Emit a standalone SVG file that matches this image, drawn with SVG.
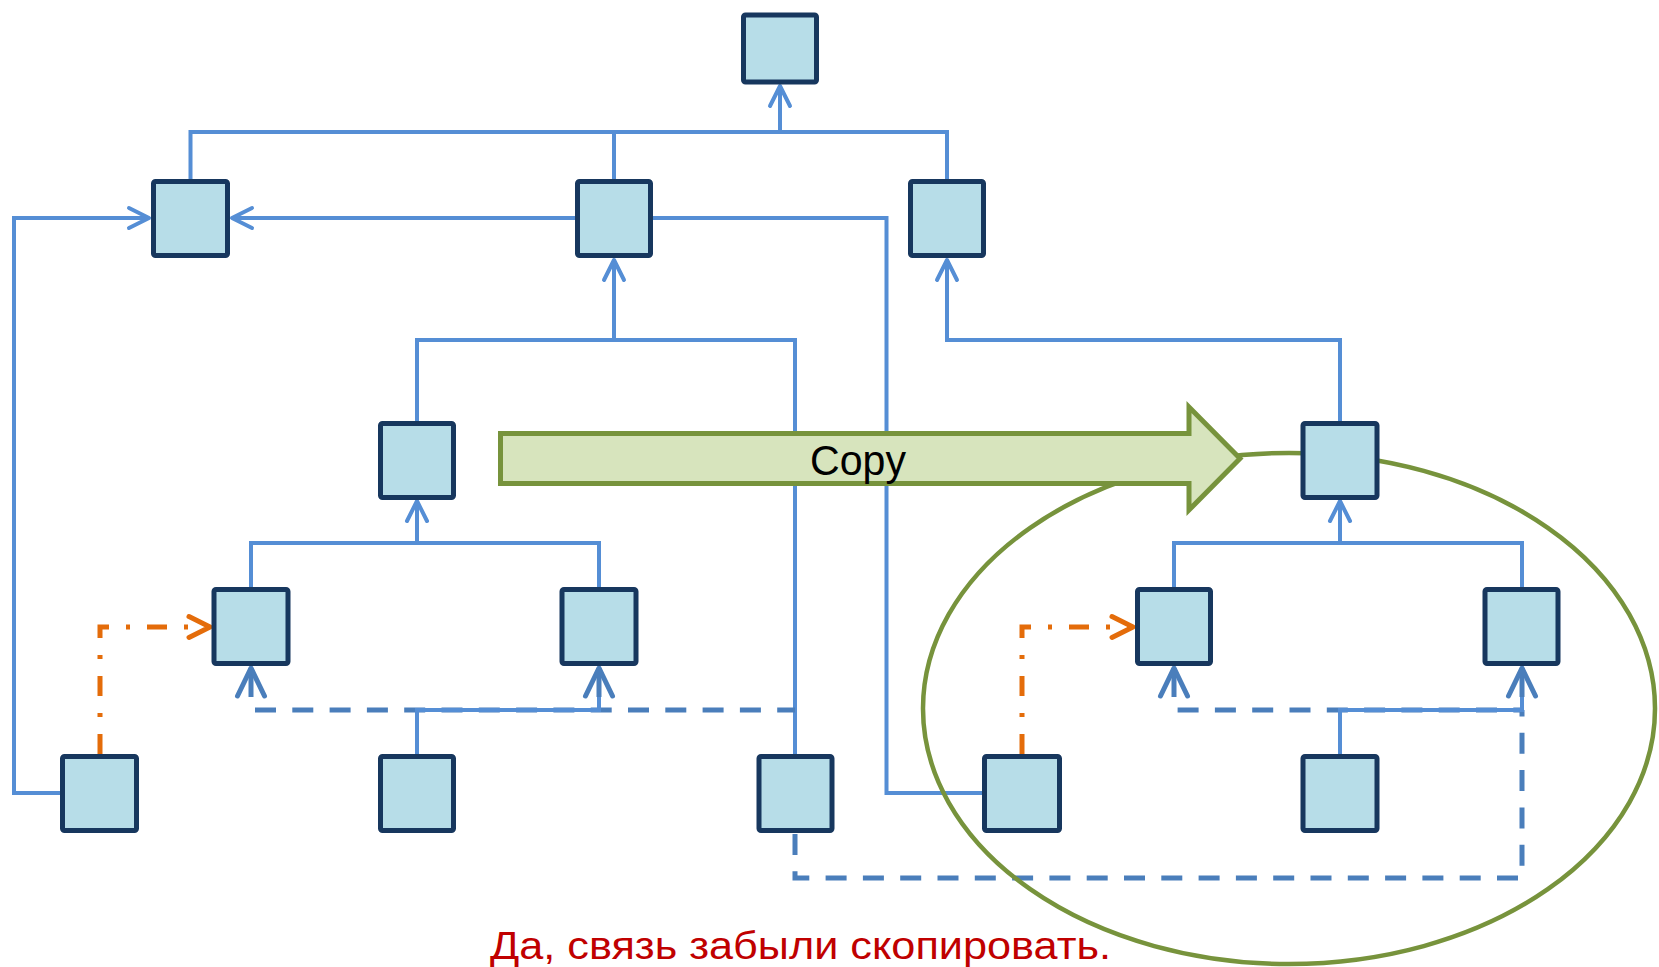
<svg xmlns="http://www.w3.org/2000/svg" width="1659" height="967" viewBox="0 0 1659 967">
<style>
.n{fill:#B7DDE8;stroke:#17375E;stroke-width:5;stroke-linejoin:round}
.c{fill:none;stroke:#558ED5;stroke-width:4}
.d{fill:none;stroke:#4A7EBB;stroke-width:5;stroke-dasharray:21 16.3}
.ds{fill:none;stroke:#4A7EBB;stroke-width:5}
.o{fill:none;stroke:#E46C0A;stroke-width:5;stroke-dasharray:20 17 4 17}
</style>
<defs>
<marker id="a" viewBox="-30 -16 34 32" markerWidth="34" markerHeight="32" refX="0" refY="0" orient="auto" markerUnits="userSpaceOnUse">
<path d="M-20,-10 L0,0 L-20,10" fill="none" stroke="#558ED5" stroke-width="4" stroke-linecap="round" stroke-linejoin="round"/>
</marker>
<marker id="b" viewBox="-34 -18 38 36" markerWidth="38" markerHeight="36" refX="0" refY="0" orient="auto" markerUnits="userSpaceOnUse">
<path d="M-28,-13.5 L0,0 L-28,13.5" fill="none" stroke="#4A7EBB" stroke-width="5" stroke-linecap="round" stroke-linejoin="round"/>
</marker>
<marker id="o" viewBox="-30 -16 34 32" markerWidth="34" markerHeight="32" refX="0" refY="0" orient="auto" markerUnits="userSpaceOnUse">
<path d="M-21,-10.5 L0,0 L-21,10.5" fill="none" stroke="#E46C0A" stroke-width="5" stroke-linecap="round" stroke-linejoin="round"/>
</marker>
</defs>
<g id="connectors">
<path class="c" d="M190.5 179 V132 H947 V179"/>
<path class="c" d="M614 179 V132"/>
<path class="c" d="M780 132 V86" marker-end="url(#a)"/>
<path class="c" d="M575 218 H232" marker-end="url(#a)"/>
<path class="c" d="M60 793 H14 V218 H149" marker-end="url(#a)"/>
<path class="c" d="M653 218 H886.5 V793 H984"/>
<path class="c" d="M417 421 V340 H795 V754"/>
<path class="c" d="M614 340 V260" marker-end="url(#a)"/>
<path class="c" d="M1340 421 V340 H947 V260" marker-end="url(#a)"/>
<path class="c" d="M251 587 V543 H599 V587"/>
<path class="c" d="M417 543 V501" marker-end="url(#a)"/>
<path class="c" d="M1174 587 V543 H1522 V587"/>
<path class="c" d="M1340 543 V501" marker-end="url(#a)"/>
<path class="d" d="M255 710 H795"/>
<path class="d" d="M1177.6 710 H1522"/>
<path class="d" d="M795 834 V878 H1522 V710"/>
<path class="c" d="M417 754 V710 H599 V668"/>
<path class="c" d="M1340 754 V710 H1522 V668"/>
<path class="ds" d="M251 697 V668" marker-end="url(#b)"/>
<path class="ds" d="M599 697 V668" marker-end="url(#b)"/>
<path class="ds" d="M1174 697 V668" marker-end="url(#b)"/>
<path class="ds" d="M1522 697 V668" marker-end="url(#b)"/>
<path class="o" d="M100 754 V627 H210" marker-end="url(#o)"/>
<path class="o" d="M1022 754 V627 H1133" marker-end="url(#o)"/>
</g>
<ellipse id="scope" cx="1289" cy="708.5" rx="366" ry="255.5" fill="none" stroke="#77933C" stroke-width="4.5"/>
<g id="copy">
<polygon points="500.5,433.5 1189,433.5 1189,407 1240,458.5 1189,510 1189,483.5 500.5,483.5" fill="#D7E4BD" stroke="#77933C" stroke-width="5"/>
<text x="810" y="475" font-family="Liberation Sans, Arial, sans-serif" font-size="42" fill="#000" textLength="96" lengthAdjust="spacingAndGlyphs">Copy</text>
</g>
<g id="nT"><rect class="n" x="743.5" y="15" width="73" height="67" rx="2"/></g>
<g id="nA"><rect class="n" x="153.5" y="181.5" width="74" height="74" rx="2"/></g>
<g id="nB"><rect class="n" x="577.5" y="181.5" width="73" height="74" rx="2"/></g>
<g id="nD"><rect class="n" x="910.5" y="181.5" width="73" height="74" rx="2"/></g>
<g id="nC"><rect class="n" x="380.5" y="423.5" width="73" height="74" rx="2"/></g>
<g id="nE"><rect class="n" x="1303" y="423.5" width="74" height="74" rx="2"/></g>
<g id="nF"><rect class="n" x="214" y="589.5" width="74" height="74" rx="2"/></g>
<g id="nG"><rect class="n" x="562" y="589.5" width="74" height="74" rx="2"/></g>
<g id="nK"><rect class="n" x="1137.5" y="589.5" width="73" height="74" rx="2"/></g>
<g id="nL"><rect class="n" x="1485" y="589.5" width="73" height="74" rx="2"/></g>
<g id="nH"><rect class="n" x="62.5" y="756.5" width="74" height="74" rx="2"/></g>
<g id="nI"><rect class="n" x="380.5" y="756.5" width="73" height="74" rx="2"/></g>
<g id="nJ"><rect class="n" x="759" y="756.5" width="73" height="74" rx="2"/></g>
<g id="nM"><rect class="n" x="984.5" y="756.5" width="75" height="74" rx="2"/></g>
<g id="nN"><rect class="n" x="1303" y="756.5" width="74" height="74" rx="2"/></g>
<text x="490" y="959" font-family="Liberation Sans, Arial, sans-serif" font-size="38" fill="#C00000" textLength="621" lengthAdjust="spacingAndGlyphs">Да, связь забыли скопировать.</text>
</svg>
